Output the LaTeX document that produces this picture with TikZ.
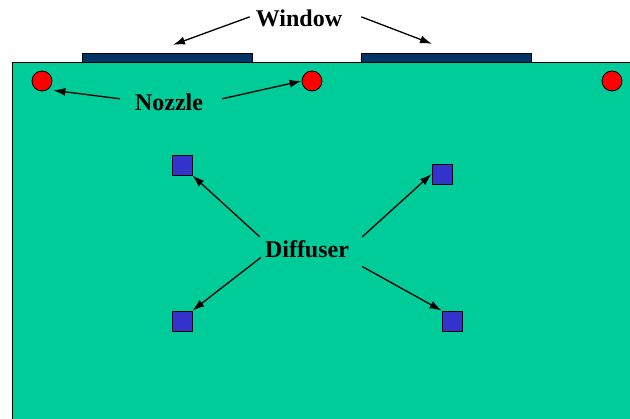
\documentclass[tikz,border=0pt]{standalone}
\usepackage{fontspec}
\setmainfont{Liberation Serif}
\usetikzlibrary{arrows.meta}
\definecolor{roomgreen}{HTML}{00CC99}
\definecolor{winblue}{HTML}{003366}
\definecolor{diffblue}{HTML}{3333CC}
\begin{document}
\begin{tikzpicture}[x=1pt,y=-1pt,
  lbl/.style={font=\fontsize{24}{28}\selectfont\bfseries, inner sep=0pt, anchor=base},
  arr/.style={-{Latex[length=12pt,width=8pt]}, line width=1.3pt},
  nozzle/.style={circle, draw, fill=red, minimum size=20pt, inner sep=0pt, line width=0.8pt},
  diffsq/.style={rectangle, draw, fill=diffblue, minimum size=20pt, inner sep=0pt, line width=0.8pt},
  winbar/.style={rectangle, draw, fill=winblue, minimum width=170pt, minimum height=9pt, inner sep=0pt, line width=0.8pt}]
\useasboundingbox (0,0) rectangle (630,419);
\fill[white] (0,0) rectangle (630,419);
\begin{scope}
  \clip (0,0) rectangle (630,419);
  \draw[fill=roomgreen, line width=1pt] (12,62.5) rectangle (640,430);
\end{scope}
% windows
\node[winbar] (w1) at (167,57.75) {};
\node[winbar] (w2) at (446.5,57.75) {};
% nozzles
\node[nozzle] (n1) at (42,81) {};
\node[nozzle] (n2) at (312,81) {};
\node[nozzle] (n3) at (612,81) {};
% diffusers
\node[diffsq] (s1) at (182,165) {};
\node[diffsq] (s2) at (442,174) {};
\node[diffsq] (s3) at (182,321) {};
\node[diffsq] (s4) at (452,321) {};
% labels
\node[lbl] (win) at (299,27) {Window};
\node[lbl] (noz) at (169,111) {Nozzle};
\node[lbl] (dif) at (307,258) {Diffuser};
% connectors
\draw[arr] ([xshift=-6pt,yshift=2pt]win.west) -- ([xshift=6pt,yshift=8pt]w1.north);
\draw[arr] ([xshift=19pt,yshift=2pt]win.east) -- ([xshift=-14.5pt,yshift=9pt]w2.north);
\draw[arr] ([xshift=-15pt,yshift=4pt]noz.west) -- ([xshift=4pt,yshift=-2pt]n1.south east);
\draw[arr] ([xshift=19pt,yshift=4pt]noz.east) -- (n2.west);
\draw[arr] ([xshift=-5pt,yshift=4pt]dif.north west) -- (s1.south east);
\draw[arr] ([xshift=13pt,yshift=4pt]dif.north east) -- (s2.west);
\draw[arr] ([xshift=-4pt,yshift=1pt]dif.south west) -- (s3.north east);
\draw[arr] ([xshift=13pt,yshift=-8pt]dif.south east) -- (s4.north west);
\end{tikzpicture}
\end{document}
